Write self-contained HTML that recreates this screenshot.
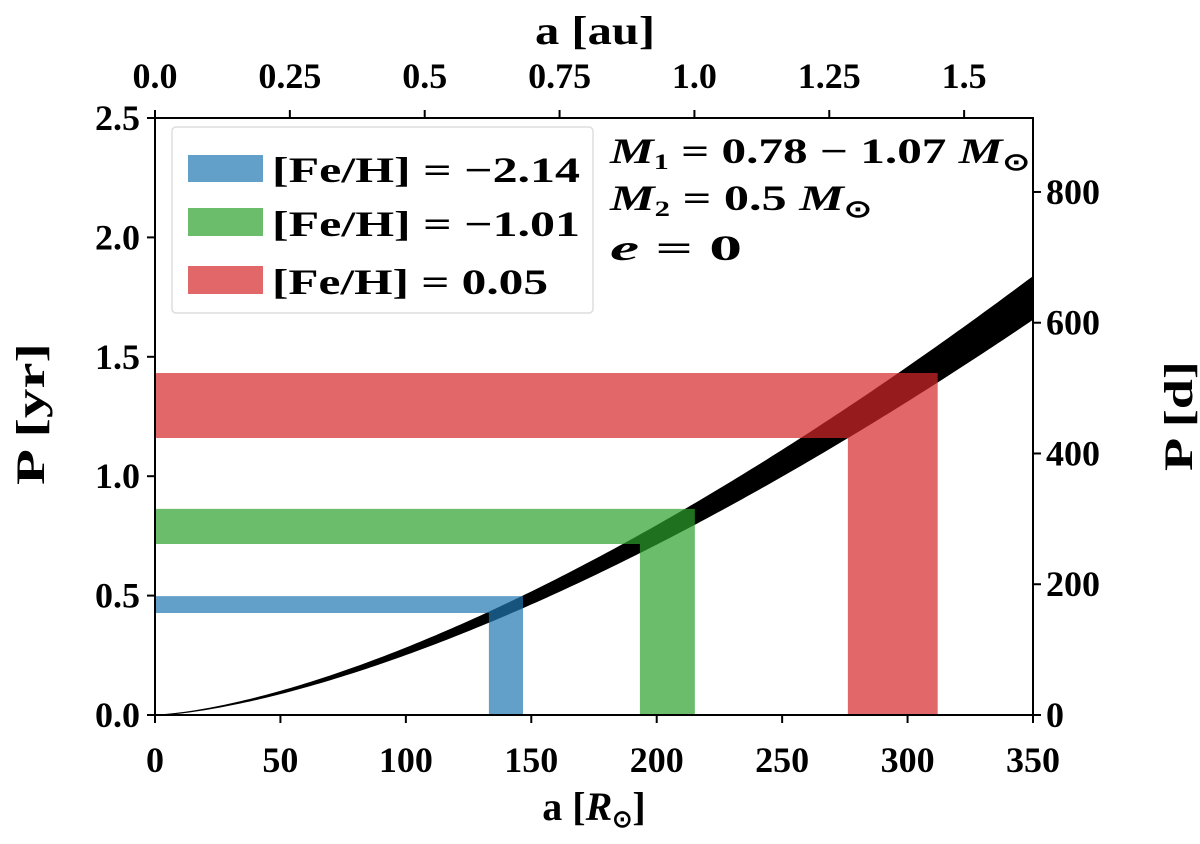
<!DOCTYPE html>
<html><head><meta charset="utf-8"><style>
body{margin:0;background:#fff}
svg text{font-family:"Liberation Serif",serif;font-weight:bold;fill:#000}
</style></head><body>
<svg width="1200" height="839" viewBox="0 0 1200 839" xmlns="http://www.w3.org/2000/svg">
<g id="marks"></g>
<g id="axes"></g>
</svg>
<script>
const xTicks=[0,50,100,150,200,250,300,350];
const yTicks=[0.0,0.5,1.0,1.5,2.0,2.5];
const auTicks=[0.0,0.25,0.5,0.75,1.0,1.25,1.5];
const auTickLabels=["0.0","0.25","0.5","0.75","1.0","1.25","1.5"];
const dayTicks=[0,200,400,600,800];
const massTotals=[1.28,1.57];
const bandNames=["blue","green","red"];
const bandColors=["#1f77b4","#2ca02c","#d62728"];
const bandPmin=[0.427,0.716,1.160];
const bandPmax=[0.498,0.863,1.432];
const bandAmin=[133.1,193.3,276.2];
const bandAmax=[146.7,215.2,312.0];

const X0=155,X1=1033,Y0=715,Y1=118;
const xs=a=>X0+(a/350)*(X1-X0);
const ys=p=>Y0-(p/2.5)*(Y0-Y1);
const RSUN_AU=1/215.03;
const NS="http://www.w3.org/2000/svg";
function mk(tag,attrs,parent){const e=document.createElementNS(NS,tag);for(const k in attrs)e.setAttribute(k,attrs[k]);parent.appendChild(e);return e;}
const marks=document.getElementById('marks'),axes=document.getElementById('axes');

let up=[],lo=[];
for(let a=0;a<=350;a+=2){const au=a*RSUN_AU;const p1=Math.sqrt(au**3/massTotals[0]);const p2=Math.sqrt(au**3/massTotals[1]);up.push(xs(a)+","+ys(p1));lo.unshift(xs(a)+","+ys(p2));}
const curve=mk('polygon',{points:up.concat(lo).join(' '),fill:'#000',stroke:'#000','stroke-width':1},marks);



for(let i=0;i<bandNames.length;i++){
  const pts=[[xs(0),ys(bandPmax[i])],[xs(bandAmax[i]),ys(bandPmax[i])],[xs(bandAmax[i]),ys(0)],[xs(bandAmin[i]),ys(0)],[xs(bandAmin[i]),ys(bandPmin[i])],[xs(0),ys(bandPmin[i])]];
  const b=mk('polygon',{points:pts.map(p=>p.join(',')).join(' '),fill:bandColors[i],'fill-opacity':0.7},marks);
  
  
}

const fr=mk('rect',{x:X0,y:Y1,width:X1-X0,height:Y0-Y1,fill:'none',stroke:'#000','stroke-width':2},axes);



const FS=36;
xTicks.forEach(v=>{const x=xs(v);mk('line',{x1:x,x2:x,y1:Y0,y2:Y0+8,stroke:'#000','stroke-width':2},axes);
  const t=mk('text',{x:x,y:772,'text-anchor':'middle','font-size':FS},axes);t.textContent=v;
  
  });
yTicks.forEach(v=>{const y=ys(v);mk('line',{x1:X0-8,x2:X0,y1:y,y2:y,stroke:'#000','stroke-width':2},axes);
  const t=mk('text',{x:140,y:y+12,'text-anchor':'end','font-size':FS},axes);t.textContent=v.toFixed(1);
  
  });
auTicks.forEach((v,i)=>{const x=xs(v/RSUN_AU);mk('line',{x1:x,x2:x,y1:Y1-8,y2:Y1,stroke:'#000','stroke-width':2},axes);
  const t=mk('text',{x:x,y:88,'text-anchor':'middle','font-size':FS},axes);t.textContent=auTickLabels[i];
  
  });
dayTicks.forEach(v=>{const y=ys(v/365.25);mk('line',{x1:X1,x2:X1+8,y1:y,y2:y,stroke:'#000','stroke-width':2},axes);
  const t=mk('text',{x:1046,y:y+12,'font-size':FS},axes);t.textContent=v;
  
  });
</script>
<svg width="1200" height="839" style="position:absolute;left:0;top:0" xmlns="http://www.w3.org/2000/svg">
<text x="594" y="820" text-anchor="middle" font-size="40">a [<tspan font-style="italic">R</tspan><tspan font-size="24" dy="7">⊙</tspan><tspan dy="-7">]</tspan></text>
<text x="595" y="44" text-anchor="middle" font-size="40" textLength="120" lengthAdjust="spacingAndGlyphs">a [au]</text>
<text transform="translate(44,414) rotate(-90)" text-anchor="middle" font-size="40" textLength="142" lengthAdjust="spacingAndGlyphs">P [yr]</text>
<text transform="translate(1192,416) rotate(-90)" text-anchor="middle" font-size="40" textLength="110" lengthAdjust="spacingAndGlyphs">P [d]</text>
<g>
<rect x="172" y="127" width="421" height="186" rx="4" fill="#fff" stroke="#ddd" stroke-width="1.5"/>
<rect x="188" y="155" width="75" height="27" fill="#1f77b4" fill-opacity="0.7"/>
<rect x="188" y="208" width="75" height="28" fill="#2ca02c" fill-opacity="0.7"/>
<rect x="188" y="266" width="75" height="28" fill="#d62728" fill-opacity="0.7"/>
<text x="272" y="182" font-size="36" textLength="308" lengthAdjust="spacingAndGlyphs">[Fe/H] = −2.14</text>
<text x="272" y="236" font-size="36" textLength="308" lengthAdjust="spacingAndGlyphs">[Fe/H] = −1.01</text>
<text x="272" y="294" font-size="36" textLength="276" lengthAdjust="spacingAndGlyphs">[Fe/H] = 0.05</text>
</g>
<g font-size="36">
<text x="610" y="163" textLength="420" lengthAdjust="spacingAndGlyphs"><tspan font-style="italic">M</tspan><tspan font-size="22" dy="6">1</tspan><tspan dy="-6"> = 0.78 − 1.07 </tspan><tspan font-style="italic">M</tspan><tspan font-size="24" dy="7">⊙</tspan></text>
<text x="610" y="210" textLength="262" lengthAdjust="spacingAndGlyphs"><tspan font-style="italic">M</tspan><tspan font-size="22" dy="6">2</tspan><tspan dy="-6"> = 0.5 </tspan><tspan font-style="italic">M</tspan><tspan font-size="24" dy="7">⊙</tspan></text>
<text x="610" y="260" textLength="132" lengthAdjust="spacingAndGlyphs"><tspan font-style="italic">e</tspan>    = 0</text>
</g>
</svg>
</body></html>
